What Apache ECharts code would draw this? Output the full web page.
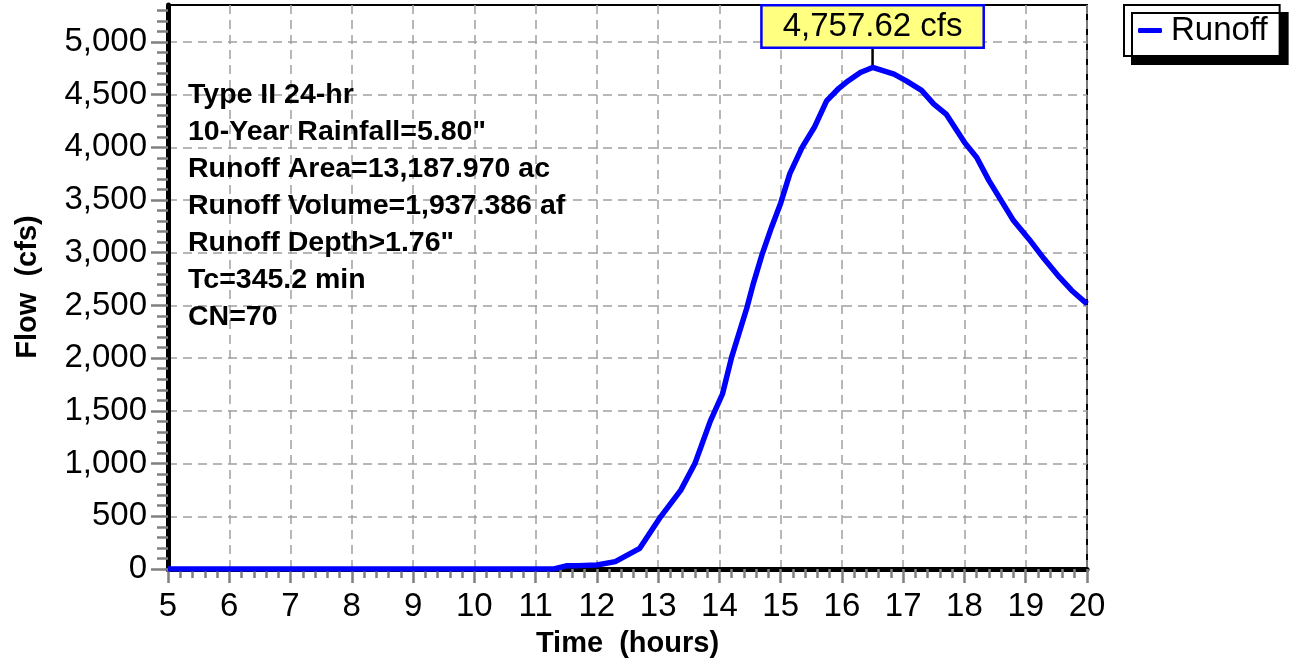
<!DOCTYPE html>
<html>
<head>
<meta charset="utf-8">
<script src="https://cdn.jsdelivr.net/npm/echarts@6/dist/echarts.min.js"></script>
<style>
  html, body { margin: 0; padding: 0; background: #fff; }
  #main { width: 1293px; height: 663px; }
</style>
</head>
<body>
<div id="main"></div>
<script>
// hydrograph
var times = [5, 11.3, 11.5, 11.7, 12.0, 12.3, 12.7, 13.04, 13.37, 13.6, 13.85, 14.05, 14.2, 14.45, 14.55, 14.7, 14.85, 15.0, 15.15, 15.35, 15.55, 15.75, 15.95, 16.1, 16.3, 16.5, 16.85, 17.05, 17.3, 17.5, 17.7, 18.0, 18.2, 18.4, 18.6, 18.8, 19.05, 19.3, 19.55, 19.75, 20.0];
var flows = [0, 0, 30, 32, 38, 70, 196, 495, 748, 1000, 1400, 1660, 2010, 2480, 2700, 2990, 3240, 3470, 3750, 4000, 4190, 4440, 4560, 4630, 4710, 4757.62, 4694, 4631, 4540, 4410, 4315, 4047, 3904, 3684, 3494, 3305, 3131, 2942, 2768, 2642, 2515];

var xTicks = [5, 6, 7, 8, 9, 10, 11, 12, 13, 14, 15, 16, 17, 18, 19, 20];
var yTicks = [0, 500, 1000, 1500, 2000, 2500, 3000, 3500, 4000, 4500, 5000];
var yMax = 5350;

var infoLines = [
  'Type II 24-hr',
  '10-Year Rainfall=5.80"',
  'Runoff Area=13,187.970 ac',
  'Runoff Volume=1,937.386 af',
  'Runoff Depth>1.76"',
  'Tc=345.2 min',
  'CN=70'
];

var yMinor = [];
for (var v = 0; v <= 5300; v += 100) yMinor.push(v);

var font = 'Liberation Sans, Arial, sans-serif';
var tickGray = '#808080';
var gridGray = '#a0a0a0';

var data = times.map(function (t, i) { return [t, flows[i]]; });

var chartDom = document.getElementById('main');
var myChart = echarts.init(chartDom);

var option = {
  animation: false,
  backgroundColor: '#fff',
  grid: {
    left: 168, right: 206, top: 5, bottom: 94,
    show: true, borderColor: '#000', borderWidth: 2, backgroundColor: 'transparent'
  },
  legend: {
    data: ['Runoff'],
    left: 1124, top: 5,
    backgroundColor: '#fff',
    borderColor: '#000', borderWidth: 2, borderRadius: 0,
    padding: [9, 12, 9, 14],
    shadowColor: '#000', shadowBlur: 0, shadowOffsetX: 8, shadowOffsetY: 8,
    icon: 'roundRect', itemWidth: 24, itemHeight: 5,
    textStyle: { fontSize: 33, color: '#000', fontFamily: font, padding: [0, 0, 0, 4] }
  },
  xAxis: {
    type: 'value', min: 5, max: 20, interval: 1,
    name: 'Time  (hours)', nameLocation: 'middle', nameGap: 60,
    nameTextStyle: { fontSize: 29, fontWeight: 'bold', color: '#000', fontFamily: font },
    axisLine: { show: true, onZero: false, lineStyle: { color: '#000', width: 5 } },
    axisTick: { show: true, length: 14, lineStyle: { color: tickGray, width: 2.5 } },
    minorTick: { show: true, splitNumber: 5, length: 9, lineStyle: { color: tickGray, width: 2.5 } },
    axisLabel: {
      fontSize: 33, color: '#000', fontFamily: font, margin: 21,
      customValues: xTicks
    },
    splitLine: { show: true, lineStyle: { color: gridGray, width: 1.5, type: [9, 6] } }
  },
  yAxis: [{
    type: 'value', min: 0, max: yMax, interval: 500,
    name: 'Flow  (cfs)', nameLocation: 'middle', nameGap: 126,
    nameTextStyle: { fontSize: 29, fontWeight: 'bold', color: '#000', fontFamily: font },
    axisLine: { show: true, onZero: false, lineStyle: { color: '#000', width: 5 } },
    axisTick: { show: true, length: 17, customValues: yTicks, lineStyle: { color: tickGray, width: 2.5 } },
    axisLabel: {
      fontSize: 33, color: '#000', fontFamily: font, margin: 21,
      customValues: yTicks,
      formatter: function (val) { return val.toLocaleString('en-US'); }
    },
    splitLine: { show: true, lineStyle: { color: gridGray, width: 1.5, type: [9, 6] } }
  }, {
    type: 'value', min: 0, max: yMax, position: 'left',
    axisLine: { show: false },
    axisTick: { show: true, length: 11, customValues: yMinor, lineStyle: { color: tickGray, width: 2.5 } },
    axisLabel: { show: false },
    splitLine: { show: false }
  }],
  graphic: [{
    type: 'text', left: 188, top: 77, z: 10,
    style: {
      text: infoLines.join('\n'),
      font: 'bold 28.5px ' + font,
      lineHeight: 37.0,
      fill: '#000'
    }
  }],
  series: [{
    name: 'Runoff',
    type: 'line',
    data: data,
    yAxisIndex: 0,
    symbol: 'none',
    smooth: false,
    lineStyle: { color: '#0000ff', width: 5.5 },
    itemStyle: { color: '#0000ff' },
    z: 5,
    markPoint: {
      symbol: 'rect',
      symbolSize: [2.5, 21],
      symbolOffset: [0, '-50%'],
      itemStyle: { color: '#000' },
      label: {
        show: true, position: 'top', distance: 0,
        fontSize: 33, color: '#000', fontFamily: font,
        backgroundColor: '#ffff80', borderColor: '#0000ff', borderWidth: 2.5,
        padding: [4, 20, 3, 20],
        formatter: function (p) {
          return p.value.toLocaleString('en-US', { minimumFractionDigits: 2, maximumFractionDigits: 2 }) + ' cfs';
        }
      },
      data: [{ type: 'max' }]
    }
  }]
};

option && myChart.setOption(option);
</script>
</body>
</html>
